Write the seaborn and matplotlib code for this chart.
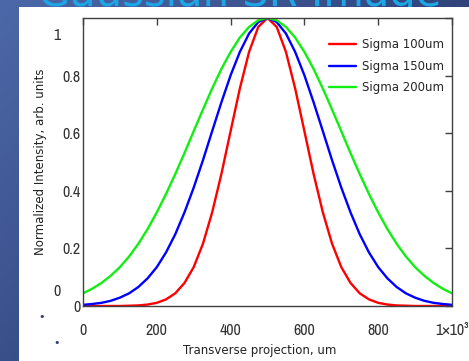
import numpy as np
import pandas as pd
import matplotlib
matplotlib.use("Agg")
import matplotlib.pyplot as plt
import seaborn as sns
from matplotlib.colors import LinearSegmentedColormap
from matplotlib.patches import Rectangle

# transverse position (um), every 25 um
position = list(range(0, 1001, 25))

sigma_100 = [0, 0, 0, 0, 0, 0.001, 0.002, 0.005, 0.011, 0.023, 0.044, 0.080, 0.135,
             0.216, 0.325, 0.458, 0.607, 0.755, 0.882, 0.969, 1.0,
             0.969, 0.882, 0.755, 0.607, 0.458, 0.325, 0.216, 0.135, 0.080, 0.044,
             0.023, 0.011, 0.005, 0.002, 0.001, 0, 0, 0, 0, 0]
sigma_150 = [0.004, 0.007, 0.011, 0.018, 0.029, 0.044, 0.066, 0.096, 0.135, 0.186,
             0.249, 0.325, 0.411, 0.506, 0.607, 0.707, 0.801, 0.882, 0.946, 0.986, 1.0,
             0.986, 0.946, 0.882, 0.801, 0.707, 0.607, 0.506, 0.411, 0.325, 0.249,
             0.186, 0.135, 0.096, 0.066, 0.044, 0.029, 0.018, 0.011, 0.007, 0.004]
sigma_200 = [0.044, 0.060, 0.080, 0.105, 0.135, 0.172, 0.216, 0.267, 0.325, 0.389,
             0.458, 0.531, 0.607, 0.682, 0.755, 0.823, 0.882, 0.932, 0.969, 0.992, 1.0,
             0.992, 0.969, 0.932, 0.882, 0.823, 0.755, 0.682, 0.607, 0.531, 0.458,
             0.389, 0.325, 0.267, 0.216, 0.172, 0.135, 0.105, 0.080, 0.060, 0.044]

series_names = ["Sigma 100um", "Sigma 150um", "Sigma 200um"]
series_colors = ["#ff0000", "#0000ff", "#11ee11"]

x_ticks = [0, 200, 400, 600, 800, 1000]
x_labels = ["0", "200", "400", "600", "800", "1×10³"]
y_ticks = [0, 0.2, 0.4, 0.6, 0.8, 1.0]
y_labels = ["0", "0.2", "0.4", "0.6", "0.8", ""]

df = pd.concat([
    pd.DataFrame({"position": position, "intensity": vals, "series": name})
    for name, vals in zip(series_names, [sigma_100, sigma_150, sigma_200])
])

sns.set_theme(style="white")
plt.rcParams["font.family"] = ["DejaVu Sans"]

W, H = 469, 361
fig = plt.figure(figsize=(W / 100, H / 100), dpi=100)

# slide background
bg = fig.add_axes([0, 0, 1, 1], zorder=0)
gx, gy = np.meshgrid(np.linspace(0, 1, 200), np.linspace(0, 1, 200))
grad = 0.6 * gx + 0.4 * gy
bg.imshow(grad, cmap=LinearSegmentedColormap.from_list("bg", ["#4d68a8", "#1c2b5e"]),
          extent=[0, 1, 0, 1], aspect="auto")
bg.set_xlim(0, 1)
bg.set_ylim(0, 1)
bg.axis("off")
bg.text(0.51, 1 - 6 / H, "Gaussian SR Image", color="#1ca6e6", fontsize=30,
        ha="center", va="baseline", transform=bg.transAxes, zorder=2)
bg.add_patch(Rectangle((19 / W, 0), 1, 1 - 7 / H, facecolor="white",
                       edgecolor="none", transform=bg.transAxes, zorder=5))
for bx, by in [(42, 317), (57, 343), (126, 138)]:
    bg.text(bx / W, 1 - by / H, "•", color="#2c3e74", fontsize=8,
            ha="center", va="center", transform=bg.transAxes, zorder=6)

ax = fig.add_axes([83 / W, 1 - 306 / H, 369 / W, 288 / H], zorder=2)
sns.lineplot(data=df, x="position", y="intensity", hue="series",
             palette=series_colors, linewidth=1.7, ax=ax)

ax.set_xlim(0, 1000)
ax.set_ylim(0, 1)
ax.set_xticks(x_ticks)
ax.set_xticklabels(x_labels)
ax.set_yticks(y_ticks)
ax.set_yticklabels(y_labels)
narrow = ["Archivo Narrow", "DejaVu Sans"]
for lab in ax.get_xticklabels() + ax.get_yticklabels():
    lab.set_family(narrow)
    lab.set_fontsize(11.5)
ax.tick_params(direction="in", top=True, right=True, length=5, width=1,
               color="#404040", labelcolor="#333333")
ax.tick_params(axis="x", pad=12)
ax.tick_params(axis="y", pad=1.5)
for s in ax.spines.values():
    s.set_color("#404040")
    s.set_linewidth(1)

# axis range labels (Mathcad style)
ax.text(-0.07, 0.9375, "1", transform=ax.transAxes, ha="center", va="center",
        family=narrow, fontsize=11.5, color="#333333")
ax.text(-0.07, 0.052, "0", transform=ax.transAxes, ha="center", va="center",
        family=narrow, fontsize=11.5, color="#333333")

ax.set_xlabel("Transverse projection, um", fontsize=8.5, color="#222222")
ax.set_ylabel("Normalized Intensity, arb. units", fontsize=8.5, color="#222222")
ax.xaxis.set_label_coords(0.48, -0.132)
ax.yaxis.set_label_coords(-0.097, 0.5)

ax.legend(frameon=False, loc="upper right", bbox_to_anchor=(1.0, 0.96),
          fontsize=8.5, handlelength=2.3, labelspacing=0.75,
          borderaxespad=0.3, handletextpad=0.5)

fig.savefig("out.png", dpi=100)
